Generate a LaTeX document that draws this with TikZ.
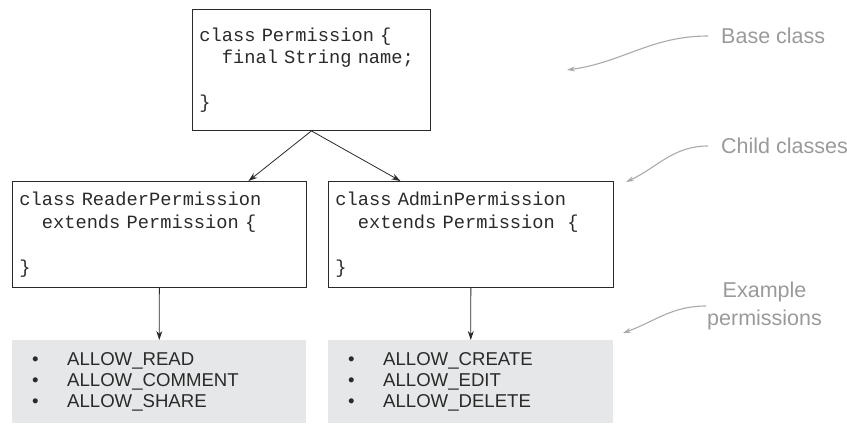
\documentclass[tikz,border=0pt]{standalone}
\usepackage{fontspec}
\setmainfont{Liberation Sans}
\setmonofont{Liberation Mono}[WordSpace={1,0,0}]
\usepackage{xcolor}
\usepackage{tikz}
\usetikzlibrary{arrows.meta,positioning}
\definecolor{codeInk}{HTML}{2A2A2A}
\definecolor{listFill}{HTML}{E6E7E8}
\definecolor{noteText}{HTML}{9A9A9A}
\definecolor{noteLine}{HTML}{AAAAAA}

\begin{document}
\begin{tikzpicture}[x=1pt,y=-1pt,
  classbox/.style={draw=codeInk,line width=0.9pt,anchor=north west,align=left,
    text=codeInk,font={\ttfamily\fontsize{18.7pt}{22.5pt}\selectfont},inner xsep=7pt,inner ysep=0pt},
  listbox/.style={fill=listFill,anchor=north west,align=left,text=codeInk,
    font={\fontsize{18.6pt}{21pt}\selectfont},inner xsep=20pt,inner ysep=0pt},
  note/.style={anchor=west,text=noteText,font={\fontsize{21.5pt}{28pt}\selectfont}},
  link/.style={-{Stealth[length=9pt,width=6pt]},codeInk,line width=0.8pt},
  callout/.style={-{Stealth[length=8pt,width=5pt]},noteLine,line width=1.1pt}]
\useasboundingbox (0,0) rectangle (847,424);
% class hierarchy
\node[classbox,text width=224pt,minimum height=121pt] (base) at (192,9)
  {class Permission \{\\\hphantom{xx}final String name;\\\mbox{}\\\}};
\node[classbox,text width=280pt,minimum height=106pt] (reader) at (12,181)
  {class ReaderPermission\\\hphantom{xx}extends Permission \{\\\mbox{}\\\}};
\node[classbox,text width=271pt,minimum height=106pt] (admin) at (328,181)
  {class AdminPermission\\\hphantom{xx}extends Permission~~\{\\\mbox{}\\\}};
% permission lists
\node[listbox,text width=254pt,minimum height=83pt] (readerlist) at (12,340)
  {\makebox[35pt][l]{\textbullet}ALLOW\_READ\\\makebox[35pt][l]{\textbullet}ALLOW\_COMMENT\\\makebox[35pt][l]{\textbullet}ALLOW\_SHARE};
\node[listbox,text width=245pt,minimum height=83pt] (adminlist) at (328,340)
  {\makebox[35pt][l]{\textbullet}ALLOW\_CREATE\\\makebox[35pt][l]{\textbullet}ALLOW\_EDIT\\\makebox[35pt][l]{\textbullet}ALLOW\_DELETE};
% side notes
\node[note,inner xsep=13pt] (notebase) at (708,36) {Base class};
\node[note,inner xsep=13pt] (notechild) at (708,146) {Child classes};
\node[note,inner xsep=1pt,align=center] (noteexample) at (706,306) {Example\\permissions};
\coordinate (tipbase) at (567,70);
\coordinate (tipchild) at (626,182);
\coordinate (tipexample) at (623,333);
% arrows
\draw[link] (base.south) -- ([xshift=89pt]reader.north);
\draw[link] (base.south) -- ([xshift=-70.5pt]admin.north);
\draw[link] (reader) -- (readerlist);
\draw[link] (admin) -- (adminlist);
\draw[callout] (notebase.west) to[out=180,in=8] (tipbase);
\draw[callout] (notechild.west) to[out=180,in=25] (tipchild);
\draw[callout] (noteexample.west) to[out=180,in=20] (tipexample);
\end{tikzpicture}
\end{document}
